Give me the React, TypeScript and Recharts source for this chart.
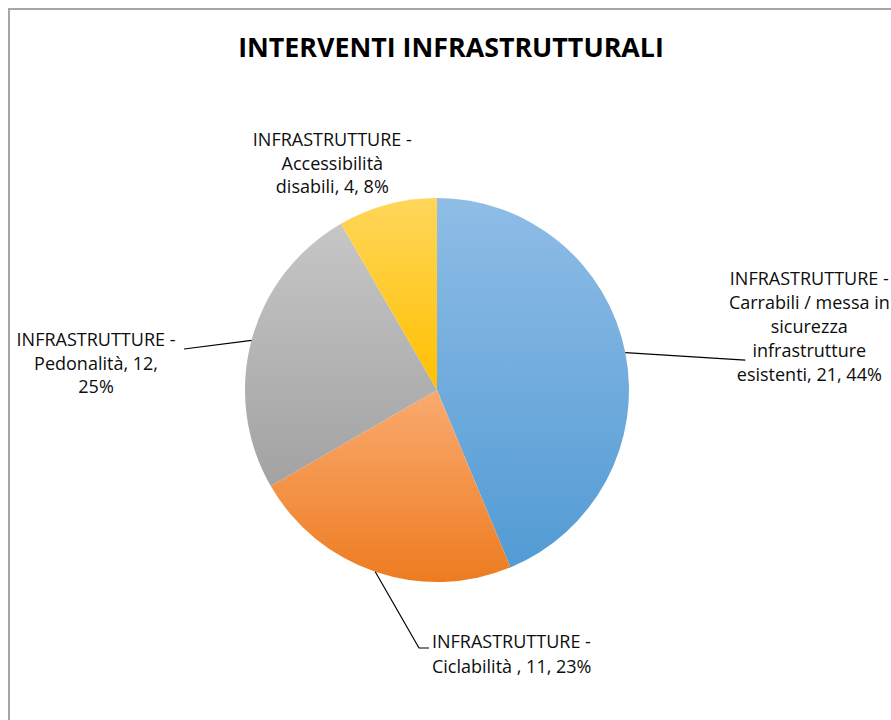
import React from "react";
import { PieChart, Pie, Cell } from "recharts";

const title = "INTERVENTI INFRASTRUTTURALI";
const categories = [
  "INFRASTRUTTURE - Carrabili / messa in sicurezza infrastrutture esistenti",
  "INFRASTRUTTURE - Ciclabilità ",
  "INFRASTRUTTURE - Pedonalità",
  "INFRASTRUTTURE - Accessibilità disabili",
];
const values = [21, 11, 12, 4];
const wordsPerLine = [
  [2, 4, 1, 1, 3],
  [2, 4],
  [2, 2, 1],
  [2, 1, 3],
];
const gradientStops = [
  ["#8fbde6", "#529bd4"],
  ["#faaa70", "#ed7c20"],
  ["#c6c6c6", "#a2a2a2"],
  ["#ffd65a", "#ffc000"],
];

const data = categories.map((name, i) => ({ name, value: values[i] }));

// label placement relative to the slice's outer edge point
const labelLayout = [
  { leader: [[120, 7.5]], tx: 184, ty: -67.5, anchor: "middle", lh: 24 },
  { leader: [[43.7, 76.2], [53.7, 76.2]], tx: 56.7, ty: 76.2, anchor: "start", lh: 24.5 },
  { leader: [[-67.5, 8.7]], tx: -155.5, ty: 5.7, anchor: "middle", lh: 23.5 },
  { leader: [], tx: -55, ty: -58.5, anchor: "middle", lh: 23.5 },
];

const RADIAN = Math.PI / 180;
const FONT = "'Open Sans', sans-serif";

function wrap(text: string, counts: number[]) {
  const words = text.split(" ");
  const lines: string[] = [];
  let k = 0;
  counts.forEach((c) => {
    lines.push(words.slice(k, k + c).join(" "));
    k += c;
  });
  return lines;
}

const renderLabel = (props: any) => {
  const { cx, cy, midAngle, outerRadius, percent, index, name, value } = props;
  const ex = cx + outerRadius * Math.cos(-midAngle * RADIAN);
  const ey = cy + outerRadius * Math.sin(-midAngle * RADIAN);
  const lay = labelLayout[index];
  const full = `${name}, ${value}, ${Math.round(percent * 100)}%`;
  const lines = wrap(full, wordsPerLine[index]);
  const pts = [[ex, ey], ...lay.leader.map(([dx, dy]) => [ex + dx, ey + dy])];
  return (
    <g key={`lbl-${index}`}>
      {lay.leader.length > 0 && (
        <polyline
          points={pts.map((p) => p.join(",")).join(" ")}
          fill="none"
          stroke="#000"
          strokeWidth={1.2}
        />
      )}
      {lines.map((l, j) => (
        <text
          key={j}
          x={ex + lay.tx}
          y={ey + lay.ty + j * lay.lh}
          textAnchor={lay.anchor as any}
          fontFamily={FONT}
          fontSize={18}
          fill="#0d0d0d"
        >
          {l}
        </text>
      ))}
    </g>
  );
};

export default function App() {
  return (
    <div
      style={{
        position: "absolute",
        left: 0,
        top: 0,
        width: 891,
        height: 720,
        overflow: "hidden",
        background: "#fff",
      }}
    >
      <svg width={0} height={0} style={{ position: "absolute" }}>
        <defs>
          {gradientStops.map((g, i) => (
            <linearGradient key={i} id={`grad${i}`} x1="0" y1="0" x2="0" y2="1">
              <stop offset="0%" stopColor={g[0]} />
              <stop offset="100%" stopColor={g[1]} />
            </linearGradient>
          ))}
        </defs>
      </svg>
      <div
        style={{
          position: "absolute",
          left: 8,
          top: 8,
          width: 3000,
          height: 3000,
          border: "2px solid #a6a6a6",
          boxSizing: "border-box",
          pointerEvents: "none",
        }}
      />
      <svg width={891} height={90} style={{ position: "absolute", left: 0, top: 0 }}>
        <text
          x={451}
          y={57}
          textAnchor="middle"
          fontFamily={FONT}
          fontWeight={700}
          fontSize={26.8}
          fill="#000"
        >
          {title}
        </text>
      </svg>
      <div style={{ position: "absolute", left: 0, top: 0 }}>
        <PieChart width={891} height={720} margin={{ top: 0, right: 0, bottom: 0, left: 0 }}>
          <Pie
            data={data}
            dataKey="value"
            nameKey="name"
            cx={437}
            cy={390}
            outerRadius={192}
            startAngle={90}
            endAngle={-270}
            stroke="none"
            label={renderLabel}
            labelLine={false}
            isAnimationActive={false}
          >
            {data.map((d, i) => (
              <Cell key={d.name} fill={`url(#grad${i})`} />
            ))}
          </Pie>
        </PieChart>
      </div>
    </div>
  );
}
